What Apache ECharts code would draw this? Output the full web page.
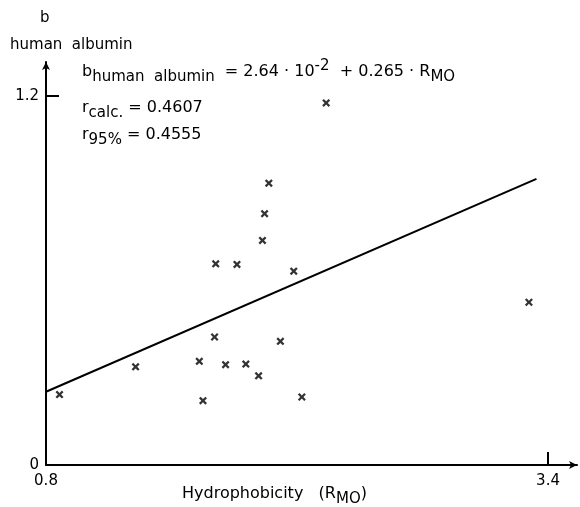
<!DOCTYPE html>
<html>
<head>
<meta charset="utf-8">
<script src="https://cdn.jsdelivr.net/npm/echarts@6/dist/echarts.min.js"></script>
<style>
  html, body { margin: 0; padding: 0; background: #fff; }
  #main { width: 580px; height: 507px; }
</style>
</head>
<body>
<div id="main"></div>
<script>
// measured points: [R_MO, b]
const points = [
    [0.87, 0.229], [1.264, 0.319], [1.594, 0.337], [1.613, 0.209],
    [1.673, 0.416], [1.679, 0.654], [1.730, 0.326], [1.789, 0.652],
    [1.835, 0.328], [1.901, 0.290], [1.921, 0.730], [1.932, 0.817],
    [1.954, 0.916], [2.014, 0.402], [2.083, 0.630], [2.125, 0.221],
    [2.251, 1.177], [3.301, 0.529]
];
// regression line ends as drawn
const fitLine = [[0.8, 0.238], [3.34, 0.93]];
const xTicks = [3.4];
const xLabels = [0.8, 3.4];
const yTicks = [1.2];
const yLabels = [0, 1.2];

const font = 'DejaVu Sans';
const cross = 'path://M0,2 L2,0 L5,3 L8,0 L10,2 L7,5 L10,8 L8,10 L5,7 L2,10 L0,8 L3,5 Z';

// rich styles: main text, subscript, superscript
const rich = {
    m: {fontSize: 16, fontFamily: font},
    s: {fontSize: 15, fontFamily: font, padding: [11, 0, 0, 0]},
    p: {fontSize: 15, fontFamily: font, padding: [0, 0, 10, 0]}
};

let chart = echarts.init(document.getElementById('main'));
chart.setOption({
    animation: false,
    textStyle: {fontFamily: font, color: '#000'},
    grid: {left: 46, right: 3, top: 62, bottom: 42},
    xAxis: {
        type: 'value',
        min: 0.8,
        max: 3.55,
        splitLine: {show: false},
        axisLine: {lineStyle: {color: '#000', width: 2}, symbol: ['none', 'arrow'], symbolSize: [6, 8]},
        axisTick: {show: true, inside: true, length: 13, customValues: xTicks, lineStyle: {color: '#000', width: 2}},
        axisLabel: {customValues: xLabels, color: '#000', fontSize: 15, fontFamily: font, margin: 9}
    },
    yAxis: {
        type: 'value',
        min: 0,
        max: 1.31,
        splitLine: {show: false},
        axisLine: {lineStyle: {color: '#000', width: 2}, symbol: ['none', 'arrow'], symbolSize: [6, 8]},
        axisTick: {show: true, inside: true, length: 13, customValues: yTicks, lineStyle: {color: '#000', width: 2}},
        axisLabel: {customValues: yLabels, color: '#000', fontSize: 15, fontFamily: font, margin: 7,
            formatter: v => v === 0 ? '0' : v.toFixed(1)}
    },
    series: [
        {
            type: 'line',
            data: fitLine,
            symbol: 'none',
            lineStyle: {color: '#000', width: 2}
        },
        {
            type: 'scatter',
            data: points,
            symbol: cross,
            symbolSize: 8,
            itemStyle: {color: '#000'}
        }
    ],
    graphic: [
        {type: 'text', left: 40, top: 11, style: {text: 'b', fontSize: 15, fontFamily: font, fill: '#000'}},
        {type: 'text', left: 10, top: 38, style: {text: 'human  albumin', fontSize: 15, fontFamily: font, fill: '#000'}},
        {
            type: 'text', left: 82, top: 59,
            style: {text: '{m|b}{s|human  albumin}{m|  = 2.64 · 10}{p|-2}{m|  + 0.265 · R}{s|MO}', rich: rich}
        },
        {
            type: 'text', left: 82, top: 100,
            style: {text: '{m|r}{s|calc.}{m| = 0.4607}', rich: rich}
        },
        {
            type: 'text', left: 82, top: 127,
            style: {text: '{m|r}{s|95%}{m| = 0.4555}', rich: rich}
        },
        {
            type: 'text', left: 182, top: 486,
            style: {text: '{m|Hydrophobicity   (R}{s|MO}{m|)}', rich: rich}
        }
    ]
});
</script>
</body>
</html>
